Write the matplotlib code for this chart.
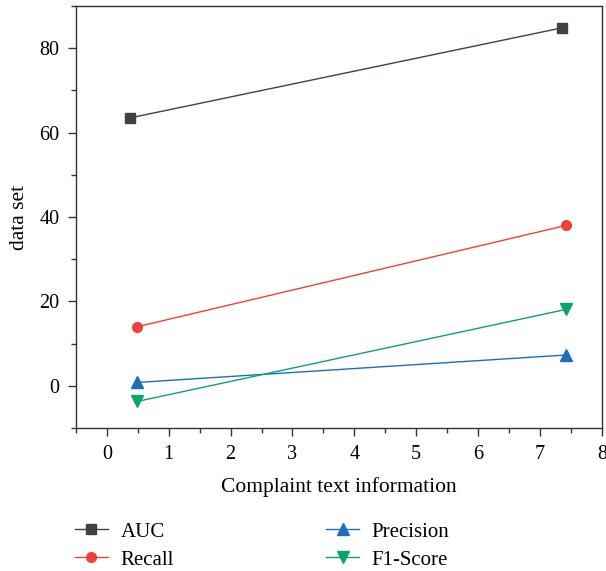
import matplotlib
matplotlib.use("Agg")
import matplotlib.pyplot as plt
from matplotlib.ticker import MultipleLocator

plt.rcParams['font.family'] = ['Liberation Serif', 'DejaVu Serif']

auc_x = [0.38, 7.35]
auc_y = [63.5, 84.8]
recall_x = [0.49, 7.42]
recall_y = [14.0, 38.0]
prec_x = [0.49, 7.42]
prec_y = [0.8, 7.3]
f1_x = [0.49, 7.42]
f1_y = [-3.7, 18.1]

fig = plt.figure(figsize=(6.06, 5.71), dpi=100)
ax = fig.add_axes([0.1254, 0.2504, 0.993 - 0.1254, 0.9895 - 0.2504])

ax.plot(auc_x, auc_y, color='#3d4343', lw=1.0, marker='s', ms=7, label='AUC')
ax.plot(recall_x, recall_y, color='#ee4236', lw=1.0, marker='o', ms=7, label='Recall')
ax.plot(prec_x, prec_y, color='#1d6fbd', lw=1.0, marker='^', ms=8, label='Precision')
ax.plot(f1_x, f1_y, color='#0aa56a', lw=1.0, marker='v', ms=8, label='F1-Score')

ax.set_xlim(-0.5, 8)
ax.set_ylim(-10, 90)
ax.xaxis.set_major_locator(MultipleLocator(1))
ax.xaxis.set_minor_locator(MultipleLocator(0.5))
ax.yaxis.set_major_locator(MultipleLocator(20))
ax.yaxis.set_minor_locator(MultipleLocator(10))
ax.tick_params(which='major', length=6, width=1, labelsize=14.5, color='#333333', pad=6)
ax.tick_params(which='minor', length=3.5, width=1, color='#333333')
for s in ax.spines.values():
    s.set_color('#333333')
    s.set_linewidth(1.0)

ax.set_xlabel('Complaint text information', fontsize=15.5, labelpad=10)
ax.set_ylabel('data set', fontsize=15.5, labelpad=7)

h, l = ax.get_legend_handles_labels()
fig.legend(h, l, loc='lower left', bbox_to_anchor=(0.1095, -0.012), ncol=2,
           frameon=False, fontsize=15, columnspacing=7.3, handlelength=1.6,
           handletextpad=0.6, labelspacing=0.4, borderaxespad=0)

fig.savefig('out.png', dpi=100)
